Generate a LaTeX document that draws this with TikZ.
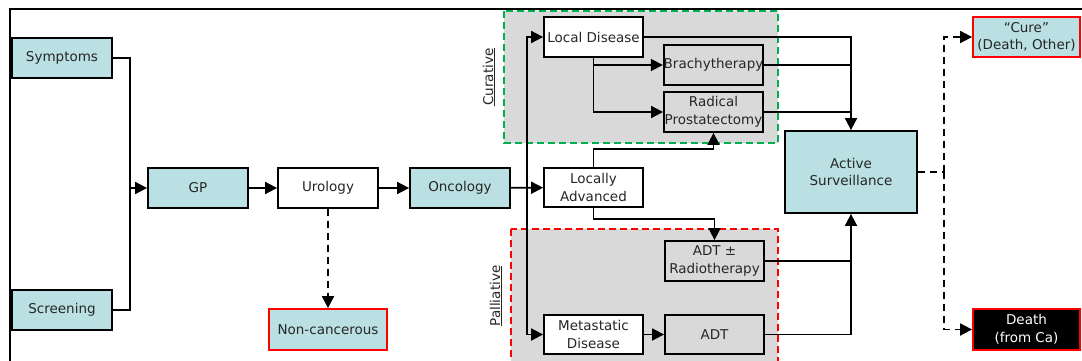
\documentclass[tikz,border=0pt]{standalone}
\usepackage{fontspec}
\setmainfont{DejaVu Sans}
\usetikzlibrary{arrows.meta}
\definecolor{ptTeal}{HTML}{BAE0E3}
\definecolor{ptGrey}{HTML}{D9D9D9}
\definecolor{ptRed}{HTML}{FF0000}
\definecolor{ptGreen}{HTML}{00B050}
\definecolor{ptText}{HTML}{262626}
\tikzset{
  box/.style={draw=black,line width=1.8pt,minimum width=100pt,minimum height=40pt,
    inner sep=0pt,align=center,text=ptText,font=\fontsize{13.5}{17.5}\selectfont},
  tealbox/.style={box,fill=ptTeal},
  whitebox/.style={box,fill=white},
  greybox/.style={box,fill=ptGrey},
  link/.style={line width=1.8pt,-{Triangle[length=12pt,width=12pt]}},
  plain/.style={line width=1.8pt},
  dashlink/.style={line width=1.8pt,dash pattern=on 7pt off 5pt,-{Triangle[length=12pt,width=12pt]}},
  region/.style={fill=ptGrey,line width=1.8pt,dash pattern=on 7pt off 4pt},
}
\begin{document}
\begin{tikzpicture}[x=1pt,y=-1pt]
\useasboundingbox (0,0) rectangle (1082,361);
% frame
\draw[plain] (10,361) -- (10,9) -- (1082,9);
% treatment regions
\draw[region,draw=ptGreen] (504,11) rectangle (778,143);
\draw[region,draw=ptRed] (511,229) rectangle (778,372);
\node[rotate=90,text=ptText,font=\fontsize{13.5}{17.5}\selectfont] (curlbl) at (489,77) {\underline{Curative}};
\node[rotate=90,text=ptText,font=\fontsize{13.5}{17.5}\selectfont] (pallbl) at (496,296) {\underline{Palliative}};
% boxes
\node[tealbox] (symptoms) at (62,58) {Symptoms};
\node[tealbox] (screening) at (62,310) {Screening};
\node[tealbox] (gp) at (198,188) {GP};
\node[whitebox] (urology) at (328,188) {Urology};
\node[tealbox,draw=ptRed,minimum width=118pt,minimum height=41pt] (noncancer) at (328,329.5) {Non-cancerous};
\node[tealbox] (oncology) at (460,188) {Oncology};
\node[whitebox,minimum width=99pt,minimum height=39pt] (locadv) at (593.5,187.5) {Locally\\Advanced};
\node[whitebox,minimum width=99pt] (localdis) at (593.5,37) {Local Disease};
\node[greybox,minimum width=99pt] (brachy) at (713.5,65) {Brachytherapy};
\node[greybox,minimum width=99pt] (radical) at (713.5,112) {Radical\\Prostatectomy};
\node[greybox,minimum width=99pt] (adtrt) at (714.5,261) {ADT ±\\Radiotherapy};
\node[whitebox,minimum width=99pt,minimum height=39pt] (meta) at (593.5,334.5) {Metastatic\\Disease};
\node[greybox,minimum width=99pt,minimum height=39pt] (adt) at (714.5,334.5) {ADT};
\node[tealbox,minimum width=132pt,minimum height=82pt] (active) at (851,172) {Active\\Surveillance};
\node[tealbox,draw=ptRed,minimum width=107pt] (cure) at (1026.5,37) {“Cure”\\(Death, Other)};
\node[box,fill=black,text=white,draw=ptRed,minimum width=107pt,minimum height=41pt] (death) at (1026.5,329.5) {Death\\(from Ca)};
% connectors
\coordinate (join) at (130,188);
\draw[plain] (symptoms.east) -| (join);
\draw[plain] (screening.east) -| (join);
\draw[link] (join) -- (gp.west);
\draw[link] (gp) -- (urology);
\draw[dashlink] (urology.south) -- (noncancer.north);
\draw[link] (urology) -- (oncology);
\draw[link] (oncology) -- (locadv);
\coordinate (split) at (527,188);
\draw[link] (split) |- (localdis.west);
\draw[link] (split) |- (meta.west);
\draw[link] (localdis.south) |- (brachy.west);
\draw[link] (localdis.south) |- (radical.west);
\draw[link] (locadv.north) -- ++(0,-18) -| (radical.south);
\draw[link] (locadv.south) -- ++(0,11) -| (adtrt.north);
\draw[link] (meta) -- (adt);
\draw[link] (localdis.east) -| (active.north);
\draw[plain] (brachy.east) -- (brachy.east -| active.north);
\draw[plain] (radical.east) -- (radical.east -| active.north);
\draw[link] (adt.east) -| (active.south);
\draw[plain] (adtrt.east) -- (adtrt.east -| active.south);
\coordinate (fork) at (944,172);
\draw[plain,dash pattern=on 7pt off 5pt] (active.east) -- (fork);
\draw[dashlink] (fork) |- (cure.west);
\draw[dashlink] (fork) |- (death.west);
\end{tikzpicture}
\end{document}
